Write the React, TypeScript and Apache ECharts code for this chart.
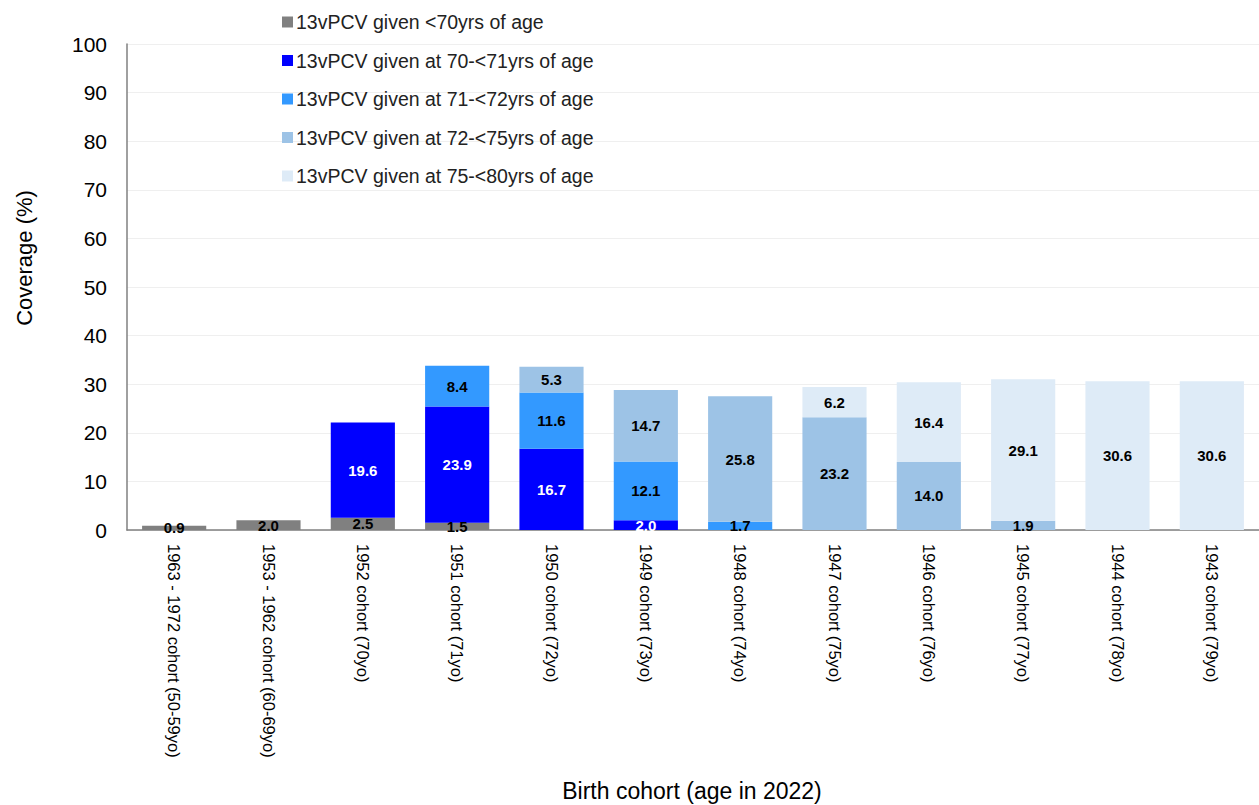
import React, { useEffect, useRef } from "react";
import * as echarts from "echarts";

const categories = [
  "1963 - 1972 cohort (50-59yo)",
  "1953 - 1962 cohort (60-69yo)",
  "1952 cohort (70yo)",
  "1951 cohort (71yo)",
  "1950 cohort (72yo)",
  "1949 cohort (73yo)",
  "1948 cohort (74yo)",
  "1947 cohort (75yo)",
  "1946 cohort (76yo)",
  "1945 cohort (77yo)",
  "1944 cohort (78yo)",
  "1943 cohort (79yo)",
];

const seriesNames = [
  "13vPCV given <70yrs of age",
  "13vPCV given at 70-<71yrs of age",
  "13vPCV given at 71-<72yrs of age",
  "13vPCV given at 72-<75yrs of age",
  "13vPCV given at 75-<80yrs of age",
];

const under70 = [0.9, 2.0, 2.5, 1.5, null, null, null, null, null, null, null, null];
const at70 = [null, null, 19.6, 23.9, 16.7, 2.0, null, null, null, null, null, null];
const at71 = [null, null, null, 8.4, 11.6, 12.1, 1.7, null, null, null, null, null];
const at72to75 = [null, null, null, null, 5.3, 14.7, 25.8, 23.2, 14.0, 1.9, null, null];
const at75to80 = [null, null, null, null, null, null, null, 6.2, 16.4, 29.1, 30.6, 30.6];

const seriesValues = [under70, at70, at71, at72to75, at75to80];
const colors = ["#808080", "#0000FF", "#3399FF", "#9DC3E6", "#DEEBF7"];
const labelColors = ["#000000", "#FFFFFF", "#000000", "#000000", "#000000"];

const yTicks = { min: 0, max: 100, interval: 10 };
const yTitle = "Coverage (%)";
const xTitle = "Birth cohort (age in 2022)";

export default function App() {
  const ref = useRef<HTMLDivElement>(null);
  useEffect(() => {
    document.body.style.margin = "0";
    if (!ref.current) return;
    const chart = echarts.init(ref.current, null, { renderer: "svg" });
    const font = "Liberation Sans, Arial, sans-serif";
    chart.setOption({
      animation: false,
      textStyle: { fontFamily: font },
      legend: {
        orient: "vertical",
        left: 277,
        top: 7,
        itemWidth: 11,
        itemHeight: 11,
        itemGap: 18.5,
        icon: "rect",
        textStyle: { fontSize: 19.5, color: "#222", fontFamily: font, padding: [0, 0, 0, -2] },
        data: seriesNames,
      },
      graphic: [
        {
          type: "text",
          x: 24,
          y: 258,
          rotation: Math.PI / 2,
          style: {
            text: yTitle,
            fontSize: 22,
            fontFamily: font,
            fill: "#000",
            align: "center",
            verticalAlign: "middle",
          },
        },
        {
          type: "text",
          x: 692,
          y: 791,
          style: {
            text: xTitle,
            fontSize: 23,
            fontFamily: font,
            fill: "#000",
            align: "center",
            verticalAlign: "middle",
          },
        },
      ],
      grid: { left: 127, right: -10, top: 44, bottom: 275, containLabel: false },
      xAxis: {
        type: "category",
        data: categories,
        axisLine: { lineStyle: { color: "#808080", width: 1.5 } },
        axisTick: { show: false },
        axisLabel: {
          rotate: -90,
          fontSize: 16.5,
          color: "#000",
          margin: 14,
          interval: 0,
          fontFamily: font,
        },
      },
      yAxis: {
        type: "value",
        min: yTicks.min,
        max: yTicks.max,
        interval: yTicks.interval,
        axisLine: { show: true, lineStyle: { color: "#808080", width: 1.5 } },
        axisTick: { show: false },
        axisLabel: { fontSize: 21, color: "#000", margin: 20, fontFamily: font },
        splitLine: { lineStyle: { color: "#EFEFEF", width: 1 } },
      },
      series: seriesValues.map((vals, i) => ({
        name: seriesNames[i],
        type: "bar",
        stack: "total",
        barWidth: "68%",
        data: vals,
        itemStyle: { color: colors[i] },
        label: {
          show: true,
          position: "inside",
          color: labelColors[i],
          fontSize: 15,
          fontWeight: "bold",
          fontFamily: font,
          formatter: (p: any) => (p.value == null ? "" : Number(p.value).toFixed(1)),
        },
      })),
    });
    return () => chart.dispose();
  }, []);
  return <div ref={ref} style={{ width: 1259, height: 805 }} />;
}
